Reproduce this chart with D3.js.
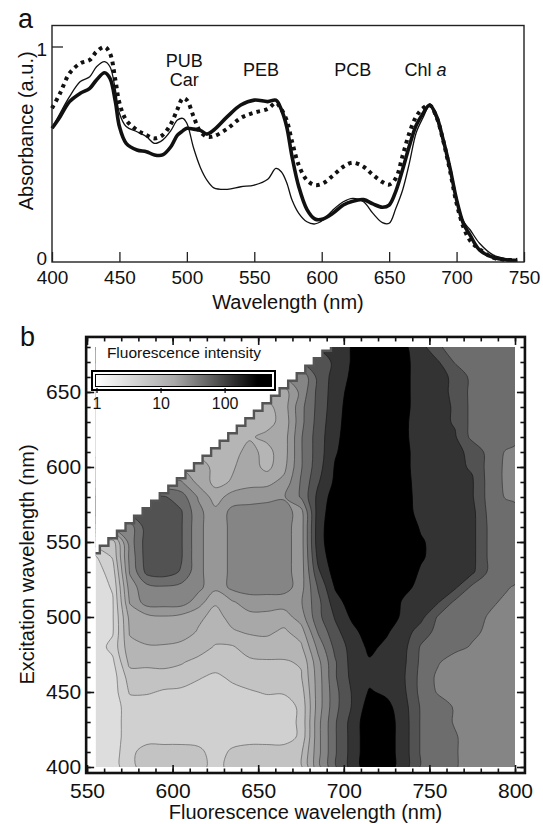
<!DOCTYPE html>
<html lang="en">
<head>
<meta charset="utf-8">
<title>Absorbance and excitation-emission map</title>
<script src="https://cdn.jsdelivr.net/npm/d3@7"></script>
<style>
  body { margin: 0; background: #fff; }
  text { font-family: "Liberation Sans", Arial, Helvetica, sans-serif; fill: #111; }
</style>
</head>
<body>
<script>

// ---------- panel a : absorbance spectra ----------
var absWl = [400, 406, 413, 421, 428, 433, 439, 443, 447, 450,
             455, 463, 470, 476, 482, 488, 493, 497, 500, 505,
             510, 515, 520, 530, 540, 550, 560, 566, 570, 574,
             578, 583, 589, 595, 601, 608, 616, 623, 631, 638,
             645, 650, 655, 660, 665, 670, 675, 680, 685, 690,
             695, 700, 705, 710, 717, 727, 737, 745];

var absDotted = [0.715, 0.785, 0.878, 0.924, 0.94, 0.978, 1.0, 0.97, 0.847, 0.74,
                 0.66, 0.614, 0.59, 0.575, 0.59, 0.64, 0.71, 0.761, 0.753, 0.676,
                 0.606, 0.583, 0.585, 0.62, 0.67, 0.695, 0.712, 0.74, 0.71, 0.66,
                 0.56, 0.45, 0.381, 0.358, 0.366, 0.4, 0.443, 0.462, 0.443, 0.405,
                 0.372, 0.36, 0.39, 0.495, 0.6, 0.676, 0.715, 0.73, 0.676, 0.567,
                 0.428, 0.273, 0.164, 0.1, 0.06, 0.02, 0.01, 0.01];

var absThick = [0.622, 0.676, 0.746, 0.785, 0.808, 0.847, 0.88, 0.854, 0.746, 0.63,
                0.552, 0.521, 0.513, 0.498, 0.498, 0.535, 0.59, 0.61, 0.622, 0.618,
                0.612, 0.595, 0.614, 0.676, 0.73, 0.753, 0.746, 0.753, 0.71, 0.63,
                0.49, 0.35, 0.245, 0.2, 0.2, 0.225, 0.265, 0.283, 0.29, 0.27,
                0.255, 0.265, 0.33, 0.43, 0.54, 0.635, 0.69, 0.73, 0.68, 0.57,
                0.44, 0.29, 0.18, 0.125, 0.056, 0.022, 0.01, 0.008];

var absThin = [0.622, 0.692, 0.769, 0.839, 0.862, 0.908, 0.932, 0.908, 0.8, 0.692,
               0.63, 0.606, 0.583, 0.552, 0.567, 0.61, 0.66, 0.668, 0.645, 0.53,
               0.44, 0.38, 0.345, 0.338, 0.35, 0.358, 0.385, 0.435, 0.42, 0.37,
               0.288, 0.226, 0.187, 0.177, 0.195, 0.24, 0.28, 0.296, 0.28, 0.226,
               0.183, 0.18, 0.25, 0.335, 0.46, 0.6, 0.67, 0.726, 0.665, 0.565,
               0.428, 0.3, 0.19, 0.15, 0.087, 0.033, 0.014, 0.005];

var absTicks = [400, 450, 500, 550, 600, 650, 700, 750];
var absYTicks = [0, 1];

var peakNames = ["PUB", "Car", "PEB", "PCB", "Chl"];
var peakWl    = [498, 498, 555, 623, 677];
var peakAbs   = [0.907, 0.819, 0.867, 0.867, 0.867];

// ---------- panel b : excitation-emission contour map ----------
var emCols = [555, 565, 575, 585, 595, 605, 615, 625, 635, 645, 655, 665, 675,
              685, 695, 705, 715, 725, 735, 745, 755, 765, 775, 785, 795, 800];
var exRows = [400, 410, 420, 430, 440, 450, 460, 470, 480, 490, 500, 510, 520, 530,
              540, 550, 560, 570, 580, 590, 600, 610, 620, 630, 640, 650, 660, 670, 680];

// contour band read at each node: 0 = lightest band ... 10 = black core, null = no data (scatter)
var bandGrid = [
  [0, 0, 1.2, 2, 2, 2, 2, 1, 2, 2, 2, 2, 2.3, 5.2, 7.4, 8.9, 10.2, 10, 9, 7.4, 7, 6.6, 6, 6, 6, 6],
  [0, 0, 1.2, 2, 2, 2, 1.8, 1, 1.7, 2, 2, 2, 2.3, 5.2, 7.4, 8.9, 10.2, 10, 9, 7.4, 7, 6.6, 6, 6, 6, 6],
  [0, 0, 1, 1, 1, 1, 1, 1, 1, 1, 1, 1, 1.7, 5.2, 7.4, 8.9, 10.2, 10, 9, 7.4, 7, 6.6, 6, 6, 6, 6],
  [0, 0, 1, 1, 1, 1, 1, 1, 1, 1, 1, 1, 1.7, 5.2, 7.4, 8.9, 10.2, 10, 9, 7.4, 7, 6.4, 6, 6, 6, 6],
  [0, 0, 1, 1, 1, 1, 1, 1, 1, 1, 1, 1, 1.7, 5, 7.2, 8.6, 10, 9.8, 8.9, 7.4, 7, 6.4, 6, 6, 6, 6],
  [0, 0, 1.6, 1.6, 1.4, 1.3, 1.1, 1, 1.2, 1.4, 1.6, 1.6, 2, 5, 7.2, 8.6, 9.6, 9.3, 8.7, 7.2, 6.4, 6, 6, 6, 6, 6],
  [0, 0, 2, 2, 2, 2, 1.6, 1.3, 1.7, 2, 2, 2, 2.4, 5, 7.4, 8.8, 9.2, 9, 8.6, 7.2, 6.3, 6, 6, 6, 6, 6],
  [0, 0.3, 2.8, 2.8, 2.9, 2.6, 2.2, 2, 2.1, 2.3, 2.4, 2.4, 2.6, 5.2, 7.4, 8.9, 9.4, 9.2, 8.7, 7.3, 6.6, 6, 6, 6, 6, 6],
  [0, 0.8, 3.2, 3.4, 3.4, 3.2, 3, 2.4, 2.4, 3, 3, 3, 3.3, 5.8, 7.8, 8.9, 9.7, 9.3, 8.8, 7.4, 7.1, 6.8, 6.4, 6.2, 6, 6],
  [0, 0.4, 3.6, 4, 4, 4, 3.4, 3, 3.4, 3.6, 3.7, 3.3, 4, 6.6, 8.2, 9.2, 10, 9.6, 9, 8, 7.2, 7, 6.7, 6.3, 6.1, 6],
  [0, 0.4, 3.8, 4.2, 4.4, 4.2, 3.7, 3.2, 3.8, 4.2, 4.2, 4, 5, 7.2, 8.6, 9.7, 10.2, 10, 9.3, 8.8, 7.4, 7.1, 6.9, 6.4, 6.2, 6.1],
  [0, 0.4, 4.6, 6, 6, 6, 5, 3.6, 4.4, 5, 5, 5, 5.4, 7.2, 9.1, 10, 10.2, 10, 9.4, 9, 8.6, 7.3, 7.1, 6.7, 6.3, 6.2],
  [0, 0.6, 5, 6.2, 6.4, 6.2, 5.8, 4.8, 5.8, 6, 6, 5.9, 5.1, 7.6, 9.6, 10.2, 10.3, 10.2, 9.7, 9.3, 9, 8.7, 7.3, 7.1, 6.6, 6.4],
  [0, 1, 5.6, 7.8, 8, 7.4, 5.8, 4.8, 5.8, 6, 6, 5.9, 5, 8.3, 10, 10.3, 10.3, 10.3, 10, 9.4, 9.1, 9, 8.7, 7.3, 7.1, 7],
  [0.4, 1.6, 5.8, 8, 8.2, 7.6, 5.8, 4.8, 5.8, 6, 6, 5.9, 5, 8.8, 10.2, 10.3, 10.3, 10.3, 10.2, 9.6, 9.2, 9, 8.8, 7.3, 7.1, 7],
  [null, 2, 6, 8, 8.2, 7.6, 5.8, 4.8, 5.8, 6, 6, 5.9, 5, 9.1, 10.2, 10.3, 10.3, 10.3, 10.2, 9.6, 9.2, 9, 8.8, 7.3, 7.1, 7],
  [null, null, 6, 8, 8.2, 7.6, 5.8, 4.8, 5.8, 6, 6, 5.9, 5, 9.1, 10.2, 10.3, 10.3, 10.3, 10.1, 9.4, 9.1, 9, 8.8, 7.3, 7.1, 7],
  [null, null, null, 8, 8.2, 7.6, 5.8, 4.8, 5.8, 6, 6, 5.9, 5.1, 9, 10.1, 10.3, 10.3, 10.3, 10, 9.1, 9, 8.9, 8.8, 7.2, 7, 7],
  [null, null, null, null, 7.6, 7, 5.4, 4, 5, 5, 5.2, 5.4, 6.6, 8.8, 10, 10.3, 10.3, 10.3, 10, 9, 9, 8.9, 8.6, 7.1, 6.4, 6.2],
  [null, null, null, null, null, 5.6, 4.2, 3.2, 3.6, 4.2, 4.2, 4.8, 6.6, 8.4, 9.7, 10.2, 10.2, 10.2, 9.9, 9, 9, 8.8, 8.6, 7.1, 6.3, 6.2],
  [null, null, null, null, null, null, 4.4, 3, 3.4, 4, 3.2, 4.2, 6.4, 8.1, 9.6, 10.2, 10.3, 10.2, 9.8, 9, 8.9, 8.7, 8.4, 7.1, 6.3, 6.2],
  [null, null, null, null, null, null, null, 3, 3.2, 3.8, 3.2, 4, 6.4, 8, 9.4, 10.1, 10.3, 10.2, 9.8, 9, 8.9, 8.7, 8.3, 7.1, 6.4, 6.2],
  [null, null, null, null, null, null, null, null, 3, 3.4, 3.7, 4, 6.4, 8, 9.3, 10, 10.3, 10.2, 9.7, 9, 8.8, 8.6, 7.2, 7.1, 7, 6.9],
  [null, null, null, null, null, null, null, null, null, 3, 3.2, 3.8, 6.2, 7.9, 9.2, 10, 10.3, 10.2, 9.7, 9, 8.8, 8.4, 7.2, 7.1, 7, 7],
  [null, null, null, null, null, null, null, null, null, null, 3.2, 4, 6.2, 7.8, 9.1, 10, 10.3, 10.2, 9.8, 9, 8.8, 8.4, 7.2, 7.1, 7, 7],
  [null, null, null, null, null, null, null, null, null, null, null, 4, 5.8, 7.8, 9, 9.9, 10.3, 10.2, 9.8, 9, 8.8, 8.3, 7.2, 7.1, 7, 7],
  [null, null, null, null, null, null, null, null, null, null, null, null, 5.6, 7.8, 8.9, 9.7, 10.3, 10.2, 9.8, 9, 8.8, 8.3, 7.2, 7.1, 7, 7],
  [null, null, null, null, null, null, null, null, null, null, null, null, null, 7.6, 8.8, 9.6, 10.3, 10.2, 9.8, 9, 8.6, 7.4, 7.2, 7.1, 7, 7],
  [null, null, null, null, null, null, null, null, null, null, null, null, null, null, 8.7, 9.6, 10.3, 10.2, 9.7, 8.9, 7.6, 7.2, 7.1, 7, 7, 7]
];

// fluorescence intensity of each band (same units as the colour bar)
var bandValues = [1.2, 1.7, 2.4, 3.4, 4.9, 7.5, 12, 23, 46, 105, 400];

var scatterGap = 15;     // no data where emission < excitation + gap
var legendTicks = [1, 10, 100];
var emTicks = [550, 600, 650, 700, 750, 800];
var exTicks = [400, 450, 500, 550, 600, 650];

var w = 543;
var h = 824;
var svg = d3.select("body").append("svg").attr("width", w).attr("height", h);
var defs = svg.append("defs");

// ================= panel a =================
var xa = d3.scaleLinear().domain([400, 750]).range([52, 524]);
var ya = d3.scaleLinear().domain([0, 1]).range([262, 47]);

var pa = svg.append("g");

var line = function(vals) {
  return d3.line()
    .x(function(d, i) { return xa(absWl[i]); })
    .y(function(d) { return ya(d); })
    .curve(d3.curveCatmullRom)(vals);
};

pa.append("path").attr("d", line(absThin))
  .attr("fill", "none").attr("stroke", "#111").attr("stroke-width", 1.3);
pa.append("path").attr("d", line(absThick))
  .attr("fill", "none").attr("stroke", "#111").attr("stroke-width", 3.6)
  .attr("stroke-linejoin", "round");
pa.append("path").attr("d", line(absDotted))
  .attr("fill", "none").attr("stroke", "#111").attr("stroke-width", 4)
  .attr("stroke-dasharray", "3.6 4.2");

pa.append("rect")
  .attr("x", xa(400)).attr("y", ya(1.1))
  .attr("width", xa(750) - xa(400)).attr("height", ya(0) - ya(1.1))
  .attr("fill", "none").attr("stroke", "#222").attr("stroke-width", 1.4);

var axA = pa.append("g").attr("transform", "translate(0," + ya(0) + ")")
  .call(d3.axisBottom(xa).tickValues(absTicks).tickSize(-10).tickPadding(9).tickSizeOuter(0));
axA.select(".domain").remove();
axA.attr("font-size", null).attr("font-family", null).attr("color", "#222");
axA.selectAll("text").attr("font-size", 19);
axA.selectAll("line").attr("stroke-width", 1.3);

// y ticks (only the tick at 1 is drawn inside the frame)
pa.append("line")
  .attr("x1", xa(400)).attr("x2", xa(400) + 11)
  .attr("y1", ya(1)).attr("y2", ya(1))
  .attr("stroke", "#222").attr("stroke-width", 1.3);
pa.selectAll(".ylab").data(absYTicks).enter().append("text")
  .attr("x", xa(400) - 5)
  .attr("y", function(d) { return ya(d) + (d === 0 ? 3 : 9); })
  .attr("text-anchor", "end").attr("font-size", 19)
  .text(function(d) { return d; });

pa.selectAll(".peak").data(peakNames).enter().append("text")
  .attr("x", function(d, i) { return xa(peakWl[i]); })
  .attr("y", function(d, i) { return ya(peakAbs[i]); })
  .attr("text-anchor", "middle").attr("font-size", 18)
  .each(function(d) {
    var t = d3.select(this);
    t.append("tspan").text(d);
    if (d === "Chl") t.append("tspan").attr("font-style", "italic").text(" a");
  });

pa.append("text").attr("x", (xa(400) + xa(750)) / 2).attr("y", 309)
  .attr("text-anchor", "middle").attr("font-size", 20).text("Wavelength (nm)");
pa.append("text").attr("transform", "translate(33," + ya(0.61) + ") rotate(-90)")
  .attr("text-anchor", "middle").attr("font-size", 20).text("Absorbance (a.u.)");
pa.append("text").attr("x", 18).attr("y", 28).attr("font-size", 27).text("a");

// ================= panel b =================
var xb = d3.scaleLinear().domain([550, 800]).range([87, 515]);
var yb = d3.scaleLinear().domain([400, 650]).range([767, 392]);
var pb = svg.append("g");

var shade = d3.scaleLog().domain([1, 400]).range(["#e4e4e4", "#000000"]).clamp(true);

var nCols = emCols.length, nRows = exRows.length;
var values = [];
bandGrid.forEach(function(row) {
  var r = row.slice();
  for (var i = nCols - 2; i >= 0; i--) if (r[i] === null) r[i] = r[i + 1];
  values = values.concat(r);
});

var colIdx = d3.scaleLinear().domain(d3.range(nCols)).range(emCols);
var rowIdx = d3.scaleLinear().domain(d3.range(nRows)).range(exRows);

var contours = d3.contours().size([nCols, nRows])
  .thresholds(d3.range(0.5, bandValues.length - 1, 1))(values);

var ringLine = d3.line().curve(d3.curveCatmullRomClosed.alpha(0.5));
function contourPath(c) {
  var d = "";
  c.coordinates.forEach(function(poly) {
    poly.forEach(function(ring) {
      var pts = ring.slice(0, -1).map(function(p) {
        return [xb(colIdx(p[0] - 0.5)), yb(rowIdx(p[1] - 0.5))];
      });
      d += ringLine(pts);
    });
  });
  return d;
}

defs.append("clipPath").attr("id", "dataClip")
  .append("rect")
  .attr("x", xb(555)).attr("y", yb(680))
  .attr("width", xb(800) - xb(555)).attr("height", yb(400) - yb(680));

var map = pb.append("g").attr("clip-path", "url(#dataClip)");
map.append("rect")
  .attr("x", xb(555)).attr("y", yb(680))
  .attr("width", xb(800) - xb(555)).attr("height", yb(400) - yb(680))
  .attr("fill", shade(bandValues[0]));

map.selectAll(".band").data(contours).enter().append("path")
  .attr("d", contourPath)
  .attr("fill-rule", "evenodd")
  .attr("fill", function(d, i) { return shade(bandValues[i + 1]); })
  .attr("stroke", function(d, i) { return d3.color(shade(bandValues[i + 1])).darker(1.6); })
  .attr("stroke-width", 0.8);

// Rayleigh-scatter region (no data) as a staircase following the 5 nm sampling
var stairs = [];
d3.range(540, 681, 5).forEach(function(e) {
  stairs.push([e + scatterGap - 2.5, e - 2.5], [e + scatterGap - 2.5, e + 2.5]);
});
var maskPts = [[540, stairs[0][1]]].concat(stairs, [[stairs[stairs.length - 1][0], 690], [540, 690]]);
var px = function(p) { return [xb(p[0]), yb(p[1])]; };
map.append("path").attr("d", d3.line()(maskPts.map(px)) + "Z").attr("fill", "#fff");
map.append("path").attr("d", d3.line()(stairs.map(px)))
  .attr("fill", "none").attr("stroke", "#555").attr("stroke-width", 2.4);

// frame and ticks
var fx0 = xb(549.5), fx1 = xb(805.8), fy0 = yb(686.7), fy1 = yb(396);
pb.append("rect").attr("x", fx0).attr("y", fy0)
  .attr("width", fx1 - fx0).attr("height", fy1 - fy0)
  .attr("fill", "none").attr("stroke", "#111").attr("stroke-width", 2.6);

var minorEm = d3.range(550, 801, 10), minorEx = d3.range(400, 681, 10);
function tickG(axis, tr) {
  var g = pb.append("g").attr("transform", tr).call(axis);
  g.select(".domain").remove();
  g.attr("font-size", null).attr("font-family", null).attr("color", "#111");
  g.selectAll("line").attr("stroke-width", 1.6);
  return g;
}
tickG(d3.axisBottom(xb).tickValues(minorEm).tickSize(-4.5).tickFormat(""), "translate(0," + fy1 + ")");
tickG(d3.axisTop(xb).tickValues(minorEm).tickSize(-4.5).tickFormat(""), "translate(0," + fy0 + ")");
tickG(d3.axisLeft(yb).tickValues(minorEx).tickSize(-4.5).tickFormat(""), "translate(" + fx0 + ",0)");
tickG(d3.axisRight(yb).tickValues(minorEx).tickSize(-4.5).tickFormat(""), "translate(" + fx1 + ",0)");
var bx = tickG(d3.axisBottom(xb).tickValues(emTicks).tickSize(-8).tickPadding(10), "translate(0," + fy1 + ")");
tickG(d3.axisTop(xb).tickValues(emTicks).tickSize(-8).tickFormat(""), "translate(0," + fy0 + ")");
var by = tickG(d3.axisLeft(yb).tickValues(exTicks).tickSize(-8).tickPadding(5), "translate(" + fx0 + ",0)");
tickG(d3.axisRight(yb).tickValues(exTicks).tickSize(-8).tickFormat(""), "translate(" + fx1 + ",0)");
bx.selectAll("text").attr("font-size", 21);
by.selectAll("text").attr("font-size", 21);

pb.append("text").attr("x", (fx0 + fx1) / 2).attr("y", 819)
  .attr("text-anchor", "middle").attr("font-size", 20).text("Fluorescence wavelength (nm)");
pb.append("text").attr("transform", "translate(34," + yb(535) + ") rotate(-90)")
  .attr("text-anchor", "middle").attr("font-size", 20).text("Excitation wavelength (nm)");
pb.append("text").attr("x", 20).attr("y", 346).attr("font-size", 27).text("b");

// colour bar
var lx = d3.scaleLog().domain([1, 540]).range([97, 272]);
var grad = defs.append("linearGradient").attr("id", "fluoGrad");
grad.append("stop").attr("offset", "0%").attr("stop-color", "#ffffff");
grad.append("stop").attr("offset", "45%").attr("stop-color", "#a8a8a8");
grad.append("stop").attr("offset", "80%").attr("stop-color", "#2a2a2a");
grad.append("stop").attr("offset", "92%").attr("stop-color", "#000000");
grad.append("stop").attr("offset", "100%").attr("stop-color", "#000000");

pb.append("text").attr("x", 184).attr("y", 358)
  .attr("text-anchor", "middle").attr("font-size", 15.5).text("Fluorescence intensity");
pb.append("rect").attr("x", 92).attr("y", 371).attr("width", 183).attr("height", 19)
  .attr("fill", "#fff").attr("stroke", "#000").attr("stroke-width", 2);
pb.append("rect").attr("x", 95.5).attr("y", 374.5).attr("width", 176).attr("height", 12)
  .attr("fill", "url(#fluoGrad)").attr("stroke", "#000").attr("stroke-width", 1);
pb.selectAll(".ltick").data(legendTicks).enter().append("line")
  .attr("x1", function(d) { return lx(d); }).attr("x2", function(d) { return lx(d); })
  .attr("y1", 388).attr("y2", 393).attr("stroke", "#000").attr("stroke-width", 1.2);
pb.selectAll(".llab").data(legendTicks).enter().append("text")
  .attr("x", function(d) { return lx(d); }).attr("y", 409)
  .attr("text-anchor", "middle").attr("font-size", 16)
  .text(function(d) { return d; });

</script>
</body>
</html>
